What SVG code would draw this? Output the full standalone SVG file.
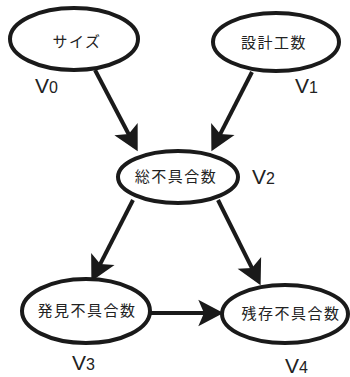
<svg xmlns="http://www.w3.org/2000/svg" width="350" height="377" viewBox="0 0 350 377">
<style>
.node ellipse{fill:#fff;stroke:#1a1a1a;stroke-width:4}
.node text{font-family:"Noto Sans CJK JP","Noto Sans",sans-serif;font-size:15px;letter-spacing:1.5px;text-anchor:middle;fill:#222}
.lab{font-family:"Liberation Sans",Arial,sans-serif;fill:#222}
.lab .v{font-size:21px}
.lab .n{font-size:16px}
.edges line{stroke:#1a1a1a;stroke-width:4}
</style>
<defs>
<marker id="ah" markerUnits="userSpaceOnUse" markerWidth="32" markerHeight="32" viewBox="-14 -14 28 28" refX="0" refY="0" orient="auto">
<path d="M10,0 L-12,-11.5 L-7,0 L-12,11.5 Z" fill="#1a1a1a"/>
</marker>
</defs>
<g class="edges">
<line x1="95" y1="70" x2="132.4" y2="141.2" marker-end="url(#ah)"/>
<line x1="252" y1="72" x2="216.6" y2="141.1" marker-end="url(#ah)"/>
<line x1="133" y1="200" x2="96.6" y2="271.1" marker-end="url(#ah)"/>
<line x1="218" y1="200" x2="255.5" y2="275.1" marker-end="url(#ah)"/>
<line x1="150" y1="313" x2="212" y2="313" marker-end="url(#ah)"/>
</g>
<g id="v0" class="node"><ellipse cx="74" cy="39" rx="64" ry="31"/><text x="77" y="47">サイズ</text></g>
<g id="v1" class="node"><ellipse cx="276" cy="42" rx="63" ry="29"/><text x="274" y="48">設計工数</text></g>
<g id="v2" class="node"><ellipse cx="178" cy="177" rx="60" ry="26"/><text x="176" y="182">総不具合数</text></g>
<g id="v3" class="node"><ellipse cx="86" cy="311" rx="64" ry="32"/><text x="87" y="316">発見不具合数</text></g>
<g id="v4" class="node"><ellipse cx="285" cy="314" rx="63" ry="29"/><text x="291" y="319">残存不具合数</text></g>
<text class="lab" x="35" y="93"><tspan class="v">V</tspan><tspan class="n">0</tspan></text>
<text class="lab" x="295" y="93"><tspan class="v">V</tspan><tspan class="n">1</tspan></text>
<text class="lab" x="252" y="184"><tspan class="v">V</tspan><tspan class="n">2</tspan></text>
<text class="lab" x="72" y="370"><tspan class="v">V</tspan><tspan class="n">3</tspan></text>
<text class="lab" x="285" y="373"><tspan class="v">V</tspan><tspan class="n">4</tspan></text>
</svg>
